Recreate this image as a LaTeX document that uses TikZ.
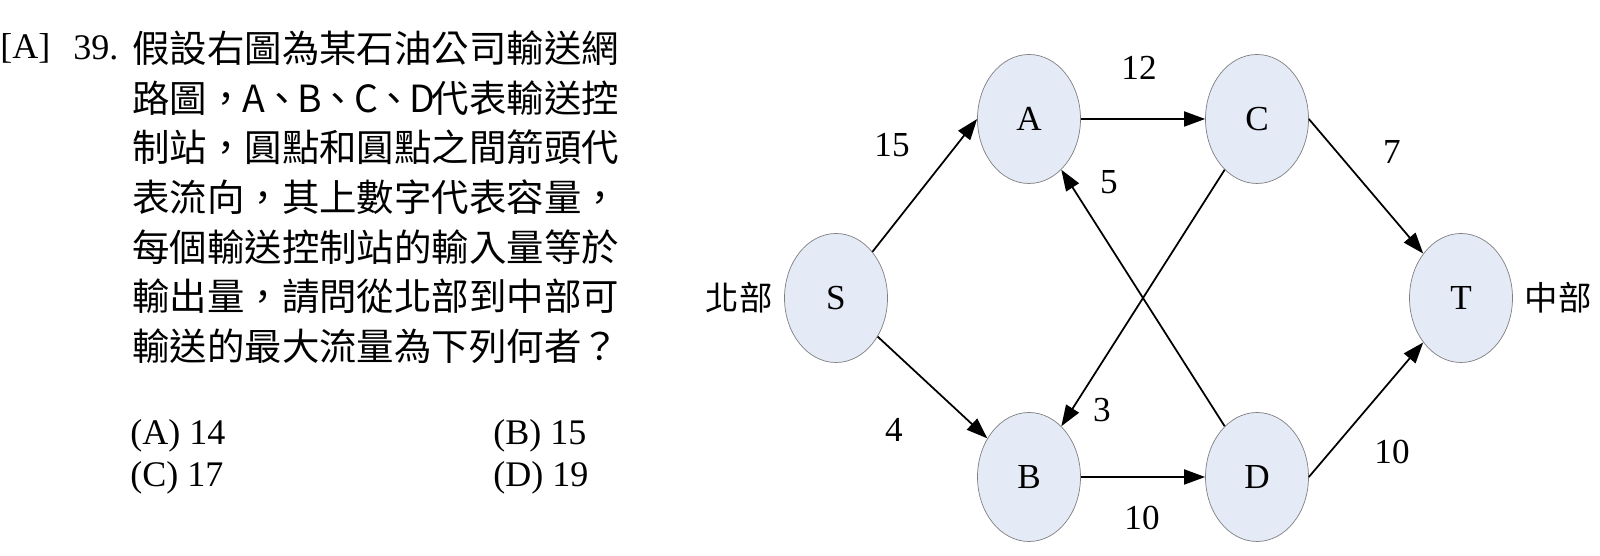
\documentclass[tikz,border=0pt]{standalone}
\usepackage{fontspec}
\setmainfont{Liberation Serif}
\newfontfamily\zhfont{Noto Sans CJK TC}
\usepackage{tikz}
\usepackage{tkz-euclide}
\usetikzlibrary{arrows.meta,shapes.geometric}
\definecolor{zhanfill}{RGB}{228,234,246}
\newcommand\banjiao[1]{\makebox[0.5em]{#1}}
\tikzset{
    zhan/.style={ellipse,draw=gray,thin,fill=zhanfill,minimum width=2.06cm,
        minimum height=2.58cm,inner sep=0pt,font=\fontsize{20}{24}\selectfont},
    liu/.style={line width=1pt,-{Triangle[length=4.2mm,width=3mm]}},
    rongliang/.style={font=\fontsize{20}{24}\selectfont},
    timu/.style={anchor=west,inner sep=0pt,font=\zhfont\fontsize{21.3}{25}\selectfont},
    xuan/.style={anchor=west,inner sep=0pt,font=\fontsize{20.5}{24}\selectfont}
}

\begin{document}
\begin{tikzpicture}
    \useasboundingbox (0,0) rectangle (32,11.12);
    % question
    \node[xuan] (ans) at (0,10.16) {[A]};
    \node[xuan] (num) at (1.46,10.16) {39.};
    \foreach \txt [count=\i] in {假設右圖為某石油公司輸送網,
        路圖，\banjiao{A}、\banjiao{B}、\banjiao{C}、\banjiao{D}代表輸送控,
        制站，圓點和圓點之間箭頭代,表流向，其上數字代表容量，,每個輸送控制站的輸入量等於,
        輸出量，請問從北部到中部可,輸送的最大流量為下列何者？}
        \node[timu] (q\i) at ({2.64},{10.16-0.995*(\i-1)}) {\txt};
    \node[xuan] (xa) at (2.60,2.40) {(A) 14};
    \node[xuan] (xb) at (9.86,2.40) {(B) 15};
    \node[xuan] (xc) at (2.60,1.56) {(C) 17};
    \node[xuan] (xd) at (9.86,1.56) {(D) 19};
    % network
    \tkzDefPoints{16.72/5.16/s, 20.58/8.74/a, 25.14/8.74/c, 20.58/1.58/b, 25.14/1.58/d, 29.22/5.16/t}
    \node[zhan] (S) at (s) {S};
    \node[zhan] (A) at (a) {A};
    \node[zhan] (C) at (c) {C};
    \node[zhan] (B) at (b) {B};
    \node[zhan] (D) at (d) {D};
    \node[zhan] (T) at (t) {T};
    \node[font=\zhfont\fontsize{19}{22}\selectfont] (bei) at (14.78,5.16) {北部};
    \node[font=\zhfont\fontsize{19}{22}\selectfont] (zhong) at (31.16,5.16) {中部};
    \draw[liu] (S) -- (A.west);
    \draw[liu] (S) -- (B);
    \draw[liu] (A) -- (C);
    \draw[liu] (C.east) -- (T);
    \draw[liu] (C) -- (B);
    \draw[liu] (D) -- (A);
    \draw[liu] (B) -- (D);
    \draw[liu] (D.east) -- (T);
    %\draw[liu] (S) -- (T);
    \node[rongliang] (r15) at (17.84,8.22) {15};
    \node[rongliang] (r12) at (22.78,9.76) {12};
    \node[rongliang] (r7) at (27.84,8.08) {7};
    \node[rongliang] (r5) at (22.18,7.48) {5};
    \node[rongliang] (r3) at (22.04,2.92) {3};
    \node[rongliang] (r4) at (17.88,2.52) {4};
    \node[rongliang] (r10a) at (22.84,0.76) {10};
    \node[rongliang] (r10b) at (27.84,2.08) {10};
\end{tikzpicture}
\end{document}
